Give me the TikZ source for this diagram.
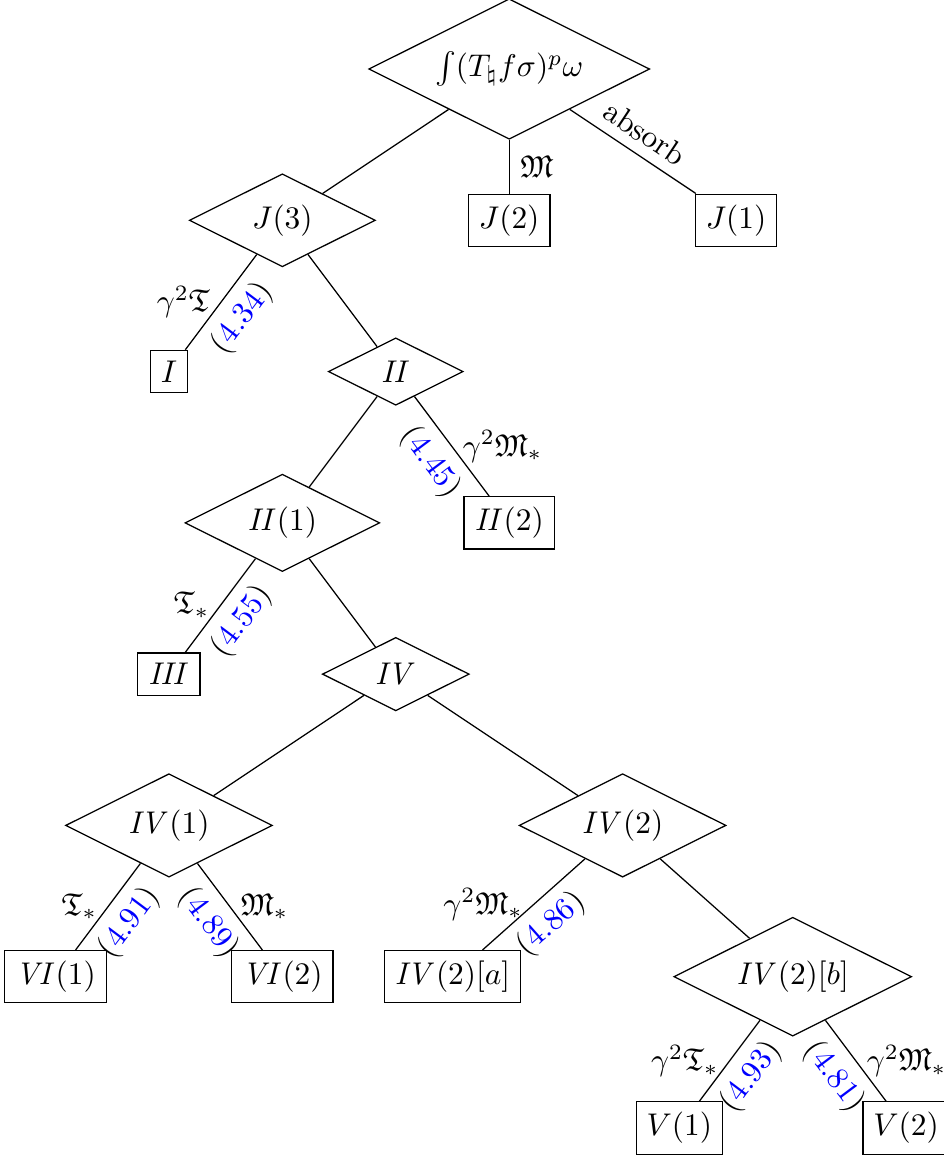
\documentclass[tikz,border=0pt]{standalone}
\usepackage{amssymb}
\usetikzlibrary{shapes.geometric,positioning}

\newcommand{\eqr}[1]{(\textcolor{blue}{#1})}

\begin{document}
\begin{tikzpicture}[node distance=1.694cm,on grid,
    dec/.style={diamond,draw,aspect=2},
    leaf/.style={rectangle,draw},
    ref/.style={sloped,below}]
    \useasboundingbox (-5.702,0.773) rectangle (4.858,-12.172);
    \node[dec] (root) {$\int(T_\natural f\sigma)^p\omega$};
    \node[dec] (jthree) [below left=1.694cm and 2.54cm of root] {$J(3)$};
    \node[leaf] (jtwo) [below=of root] {$J(2)$};
    \node[leaf] (jone) [below right=1.694cm and 2.54cm of root] {$J(1)$};
    \node[leaf] (one) [below left=1.694cm and 1.27cm of jthree] {$I$};
    \node[dec] (two) [below right=1.694cm and 1.27cm of jthree] {$\mathit{II}$};
    \node[dec] (twoone) [below left=1.694cm and 1.27cm of two] {$\mathit{II}(1)$};
    \node[leaf] (twotwo) [below right=1.694cm and 1.27cm of two] {$\mathit{II}(2)$};
    \node[leaf] (three) [below left=1.694cm and 1.27cm of twoone] {$\mathit{III}$};
    \node[dec] (four) [below right=1.694cm and 1.27cm of twoone] {$\mathit{IV}$};
    \node[dec] (fourone) [below left=1.694cm and 2.54cm of four] {$\mathit{IV}(1)$};
    \node[dec] (fourtwo) [below right=1.694cm and 2.54cm of four] {$\mathit{IV}(2)$};
    \node[leaf] (sixone) [below left=1.694cm and 1.27cm of fourone] {$\mathit{VI}(1)$};
    \node[leaf] (sixtwo) [below right=1.694cm and 1.27cm of fourone] {$\mathit{VI}(2)$};
    \node[leaf] (fourtwoa) [below left=1.694cm and 1.905cm of fourtwo] {$\mathit{IV}(2)[a]$};
    \node[dec] (fourtwob) [below right=1.694cm and 1.905cm of fourtwo] {$\mathit{IV}(2)[b]$};
    \node[leaf] (fiveone) [below left=1.694cm and 1.27cm of fourtwob] {$V(1)$};
    \node[leaf] (fivetwo) [below right=1.694cm and 1.27cm of fourtwob] {$V(2)$};

    \path (root) edge (jthree)
          (root) edge node[right] {$\mathfrak{M}$} (jtwo)
          (root) edge node[sloped,above] {absorb} (jone);
    \path (jthree) edge node[left] {$\gamma^2\mathfrak{T}$} node[ref] {\eqr{4.34}} (one)
          (jthree) edge (two);
    \path (two) edge (twoone)
          (two) edge node[right] {$\gamma^2\mathfrak{M}_*$} node[ref] {\eqr{4.45}} (twotwo);
    \path (twoone) edge node[left] {$\mathfrak{T}_*$} node[ref] {\eqr{4.55}} (three)
          (twoone) edge (four);
    \path (four) edge (fourone)
          (four) edge (fourtwo);
    \path (fourone) edge node[left] {$\mathfrak{T}_*$} node[ref] {\eqr{4.91}} (sixone)
          (fourone) edge node[right] {$\mathfrak{M}_*$} node[ref] {\eqr{4.89}} (sixtwo);
    \path (fourtwo) edge node[left] {$\gamma^2\mathfrak{M}_*$} node[ref] {\eqr{4.86}} (fourtwoa)
          (fourtwo) edge (fourtwob);
    \path (fourtwob) edge node[left] {$\gamma^2\mathfrak{T}_*$} node[ref] {\eqr{4.93}} (fiveone)
          (fourtwob) edge node[right] {$\gamma^2\mathfrak{M}_*$} node[ref] {\eqr{4.81}} (fivetwo);
\end{tikzpicture}
\end{document}
